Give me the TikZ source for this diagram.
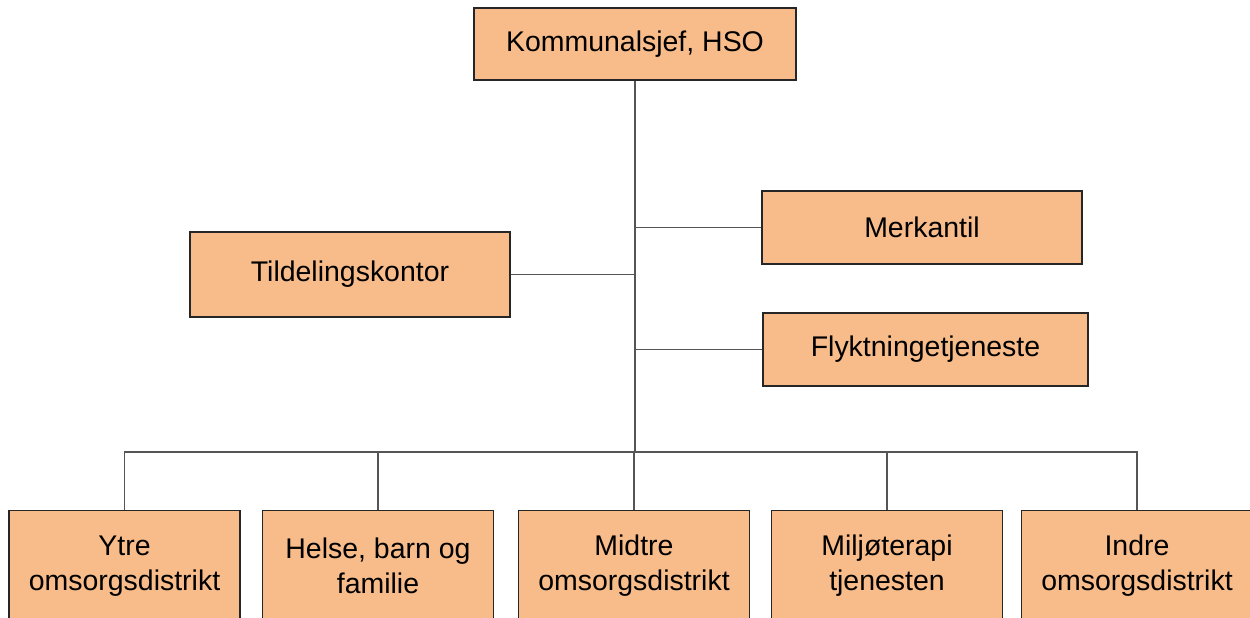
\documentclass[tikz,border=0pt]{standalone}
\usepackage{fontspec}
\setmainfont{Liberation Sans}
\usepackage{tikz}
\usetikzlibrary{calc}
\definecolor{boxfill}{HTML}{F8BC8A}
\definecolor{linegray}{HTML}{555555}

\begin{document}
\begin{tikzpicture}[x=0.02cm,y=-0.02cm,
    unit/.style={draw=black!85,line width=0.8pt,fill=boxfill,align=center,inner sep=2pt,
      font=\fontsize{16.2pt}{19.9pt}\selectfont},
    district/.style={unit,anchor=north,minimum width=4.62cm,minimum height=2.2cm},
    link/.style={draw=linegray,line width=1pt}]
              \useasboundingbox (0,0) rectangle (1250,618);
              \clip (0,0) rectangle (1250,618);
              \node[unit,minimum width=6.44cm,minimum height=1.44cm](kommunalsjef)at(635,44){Kommunalsjef, HSO};
              \node[unit,minimum width=6.4cm,minimum height=1.46cm](merkantil)at(922,227.5){Merkantil};
              \node[unit,minimum width=6.4cm,minimum height=1.7cm](tildeling)at(350,274.5){Tildelingskontor};
              \node[unit,minimum width=6.5cm,minimum height=1.46cm](flykt)at(925.5,349.5){Flyktningetjeneste};
              \coordinate (bus) at (635,452);
              \node[district](ytre)at(124.5,510){Ytre\\omsorgsdistrikt};
              \node[district](helse)at(378,510){Helse, barn og\\familie};
              \node[district](midtre)at(634,510){Midtre\\omsorgsdistrikt};
              \node[district](miljo)at(887,510){Miljøterapi\\tjenesten};
              \node[district](indre)at(1137,510){Indre\\omsorgsdistrikt};
              \draw[link] (kommunalsjef.south)--(bus);
              \draw[link] (merkantil.west)--(merkantil.west-|bus);
              \draw[link] (tildeling.east)--(tildeling.east-|bus);
              \draw[link] (flykt.west)--(flykt.west-|bus);
              \draw[link] (ytre.north)--(ytre.north|-bus)--(indre.north|-bus)--(indre.north);
              \draw[link] (helse.north)--(helse.north|-bus);
              \draw[link] (midtre.north)--(midtre.north|-bus);
              \draw[link] (miljo.north)--(miljo.north|-bus);
            \end{tikzpicture}
\end{document}
